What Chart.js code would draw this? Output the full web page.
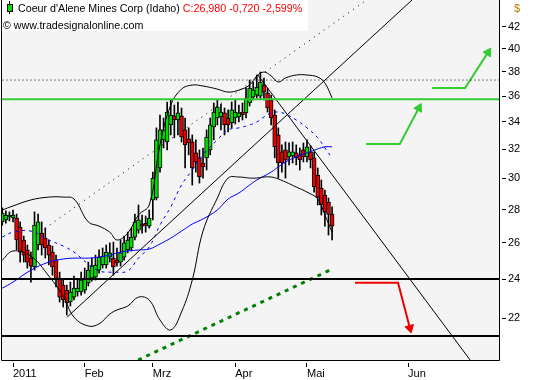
<!DOCTYPE html>
<html>
<head>
<meta charset="utf-8">
<script src="https://cdn.jsdelivr.net/npm/chart.js@4.4.1/dist/chart.umd.min.js"></script>
<style>
  body { margin: 0; background: #fff; }
  #wrap { position: relative; width: 533px; height: 380px; }
  .txt { position: absolute; font-family: 'Liberation Sans', Arial, sans-serif; font-size: 10.7px; white-space: nowrap; line-height: 15px; }
  #titlebox { position: absolute; left: 2px; top: 0; width: 306px; height: 31px; background: #fff; }
  #icon { position: absolute; left: 7px; top: 4px; width: 4px; height: 6px; background: #00dd00; border: 1px solid #000; }
  #iconwick { position: absolute; left: 9px; top: 1px; width: 1px; height: 13px; background: #000; }
</style>
</head>
<body>
<div id="wrap">
  <canvas id="chart" width="533" height="380"></canvas>
  <div id="titlebox"></div>
  <div id="iconwick"></div>
  <div id="icon"></div>
  <div class="txt" style="left:18px; top:1px;">Coeur d'Alene Mines Corp (Idaho) <span style="color:#ff0000">C:26,980 -0,720 -2,599%</span></div>
  <div class="txt" style="left:3px; top:18px;">&copy; www.tradesignalonline.com</div>
  <div class="txt" style="left:514px; top:1px; color:#b87800; font-size:11px;">$</div>
</div>
<script>
//! =============== Data =============== //
// daily candles, first one is the 3rd-last session of 2010 (index -3)
const opens  = [27.24, 27.36, 27.54, 27.48, 27.48, 26.93, 26.17, 25.60, 25.14, 24.65, 25.88, 26.57, 26.28, 25.88, 25.48, 25.03,
                24.05, 23.68, 23.42, 22.81, 23.06, 23.32, 23.32, 23.42, 23.79, 24.05, 24.10, 24.48, 24.76, 24.76, 25.20, 25.14,
                25.03, 24.92, 25.20, 25.60, 25.71, 26.34, 26.75, 27.11, 27.05, 26.99, 28.60, 28.72, 30.70, 32.67, 32.52, 33.77,
                34.45, 34.14, 34.45, 33.40, 32.74, 32.52, 31.74, 31.39, 31.04, 31.39, 31.95, 33.62, 34.29, 34.37, 34.68, 34.29,
                33.92, 34.29, 34.37, 34.75, 34.68, 35.45, 35.92, 36.08, 36.00, 36.89, 36.24, 35.69, 34.52, 33.03, 31.81, 31.95,
                31.46, 31.53, 31.74, 31.60, 31.95, 31.46, 31.81, 31.39, 30.22, 29.36, 28.91, 28.47, 27.72];
const highs  = [28.10, 27.91, 27.85, 27.97, 27.72, 27.24, 26.40, 25.88, 25.48, 27.85, 27.72, 27.24, 26.87, 26.17, 25.82, 25.31,
                24.37, 23.95, 23.68, 23.84, 24.16, 23.95, 24.37, 24.59, 24.92, 25.14, 25.31, 25.60, 25.71, 25.88, 26.00, 26.05,
                25.71, 26.17, 26.40, 26.63, 26.87, 27.72, 28.28, 27.66, 27.60, 27.97, 30.42, 33.55, 34.52, 34.29, 35.53, 35.69,
                35.29, 35.53, 35.06, 34.29, 33.55, 33.03, 32.67, 31.95, 32.09, 33.40, 34.29, 35.45, 35.69, 35.37, 35.06, 34.91,
                35.53, 35.69, 35.29, 35.45, 36.64, 37.30, 37.14, 37.72, 37.97, 37.47, 36.64, 36.08, 34.91, 33.55, 32.31, 32.52,
                32.45, 32.52, 32.31, 32.09, 32.45, 32.67, 32.24, 31.81, 30.70, 29.89, 29.23, 28.72, 28.16];
const lows   = [27.05, 27.17, 27.30, 27.24, 25.60, 24.92, 24.92, 24.59, 23.84, 24.48, 25.60, 25.31, 25.14, 24.76, 24.21, 23.58,
                22.81, 22.56, 22.16, 22.61, 22.91, 23.11, 23.16, 23.26, 23.63, 23.89, 23.95, 24.32, 24.59, 24.59, 24.92, 24.21,
                24.70, 24.70, 25.03, 25.43, 25.54, 26.17, 26.57, 26.57, 26.63, 26.87, 27.36, 28.60, 30.42, 32.09, 31.95, 33.03,
                32.82, 33.03, 32.52, 30.70, 31.60, 29.56, 30.42, 29.69, 30.02, 30.56, 31.60, 32.67, 33.77, 33.40, 33.03, 33.25,
                33.55, 33.84, 33.99, 34.14, 34.29, 35.22, 35.69, 35.85, 35.77, 35.69, 34.75, 33.77, 31.39, 30.02, 30.42, 30.02,
                30.91, 31.04, 30.91, 30.56, 31.11, 31.11, 30.70, 29.10, 28.28, 27.66, 26.99, 26.46, 26.17];
const closes = [27.78, 27.66, 27.60, 27.66, 26.17, 25.48, 25.31, 24.92, 24.70, 27.05, 27.24, 25.88, 25.71, 25.31, 24.65, 23.95,
                23.06, 22.91, 22.76, 23.32, 23.52, 23.52, 23.95, 24.05, 24.48, 24.70, 24.76, 25.20, 25.25, 25.48, 25.43, 24.65,
                24.87, 25.43, 26.00, 26.17, 26.34, 27.24, 27.36, 26.99, 27.03, 27.48, 30.02, 32.67, 33.40, 33.40, 34.75, 34.52,
                34.14, 34.68, 32.88, 32.31, 32.45, 30.70, 31.11, 30.09, 30.77, 32.88, 33.77, 34.75, 35.14, 34.75, 33.77, 33.77,
                34.91, 34.75, 34.68, 34.52, 35.85, 36.64, 36.48, 36.72, 37.14, 36.32, 35.06, 34.29, 32.17, 31.04, 31.04, 31.25,
                31.81, 31.81, 31.39, 31.25, 31.46, 32.17, 31.25, 29.43, 28.78, 28.28, 27.85, 27.70, 26.98];
const firstDay = -3;

// indicator lines, read at these sessions
const bandDays   = [-3, 0, 5, 10, 14, 17, 21, 24, 27, 29, 32, 35, 38, 41, 44, 47, 50, 53, 57, 60, 63, 66, 68, 70, 72, 74, 76, 79, 82, 85, 87, 89];
const bandUpper  = [27.97, 28.22, 28.60, 28.78, 28.78, 28.66, 27.24, 26.99, 26.63, 26.17, 26.57, 27.66, 28.28, 32.31, 35.29, 36.56,
                    36.89, 36.81, 36.56, 36.32, 36.48, 36.89, 37.64, 37.97, 37.64, 37.14, 37.47, 37.72, 37.72, 37.55, 37.05, 35.85];
const bandMiddle = [26.34, 26.63, 26.69, 26.17, 25.82, 25.48, 24.81, 24.43, 24.37, 24.37, 24.43, 25.14, 25.77, 27.05, 28.16, 29.56,
                    30.56, 31.60, 32.67, 33.40, 33.55, 33.77, 33.99, 34.37, 34.68, 34.75, 34.60, 34.14, 33.55, 32.82, 32.09, 31.39];
const bandLower  = [25.03, 25.54, 25.25, 24.16, 23.11, 22.06, 21.63, 21.73, 22.21, 22.41, 22.61, 23.06, 22.91, 21.92, 21.44, 22.31,
                    23.95, 26.69, 28.72, 30.02, 30.09, 30.02, 30.02, 30.09, 30.09, 29.96, 29.76, 29.43, 29.10, 28.66, 27.66, 26.63];
const slowAverage = [23.52, 23.84, 24.48, 24.92, 25.09, 25.14, 25.14, 25.20, 25.31, 25.43, 25.54, 25.60, 25.65, 25.94, 26.28, 26.69,
                     27.11, 27.42, 27.97, 28.66, 29.04, 29.56, 29.89, 30.15, 30.42, 30.77, 31.11, 31.46, 31.74, 32.02, 32.17, 32.17];

// drawn lines (session, price)
const riseLineDays = [15.1, 111.3],  riseLinePrices = [22.06, 44.54];
const fallLineDays = [68.3, 127.5],  fallLinePrices = [37.72, 20.06];
const dotRiseDays  = [8.9, 98.6],    dotRisePrices  = [26.85, 44.54];
const greenDotDays = [34.9, 88.4],   greenDotPrices = [20.06, 24.48];
const resistance = 35.75, peakLevel = 37.30, support = 24.0, lowSupport = 21.15;
const arrowUp1Days = [98.5, 107.9, 113.2],  arrowUp1Prices = [32.38, 32.38, 35.06];
const arrowUp2Days = [116.9, 126.1, 132.5], arrowUp2Prices = [36.64, 36.64, 39.66];
const arrowDnDays  = [95.4, 107.4, 110.7],  arrowDnPrices  = [23.8, 23.8, 21.53];

// axes
const dayMin = -3.07, dayMax = 135.56;
const priceMin = 20.06, priceMax = 44.54;
const priceTicks = [22, 24, 26, 28, 30, 32, 34, 36, 38, 40, 42];
const monthDays = [0, 20, 39, 62, 82, 110.2];
const monthLabels = ['2011', 'Feb', 'Mrz', 'Apr', 'Mai', 'Jun'];


//! =============== Chart =============== //
const days = opens.map((_, i) => firstDay + i);
const tickFont = { family: "'Liberation Sans', Arial, sans-serif", size: 11 };

function pts(xs, ys) { return xs.map((x, i) => ({ x: x, y: ys[i] })); }
function flat(v) { return [{ x: dayMin - 1, y: v }, { x: dayMax + 1, y: v }]; }
function line(data, color, width, extra) {
  return Object.assign({ type: 'line', data: data, borderColor: color, borderWidth: width,
    pointRadius: 0, tension: 0, order: 0 }, extra || {});
}
function arrow(xs, ys, color, rot) {
  return line(pts(xs, ys), color, 2, {
    pointRadius: [0, 0, 5], pointStyle: 'triangle', pointRotation: [0, 0, rot],
    pointBackgroundColor: color, pointBorderColor: color, pointBorderWidth: 1
  });
}
// no extra room for edge labels, the plot box fills the canvas
function noPad(s) { s.paddingTop = 0; s.paddingBottom = 0; s.paddingLeft = 0; s.paddingRight = 0; }

const plotFrame = {
  id: 'plotFrame',
  beforeDraw(chart) {
    const a = chart.chartArea, c = chart.ctx;
    c.save();
    c.fillStyle = '#f4f4f4';
    c.fillRect(a.left, a.top, a.right - a.left, a.bottom - a.top);
    c.restore();
  },
  afterDraw(chart) {
    const a = chart.chartArea, c = chart.ctx;
    c.save();
    c.strokeStyle = '#000';
    c.lineWidth = 1;
    c.beginPath();
    c.moveTo(a.left - 0.5, a.top);
    c.lineTo(a.left - 0.5, a.bottom + 0.5);
    c.lineTo(a.right + 0.5, a.bottom + 0.5);
    c.lineTo(a.right + 0.5, a.top);
    c.stroke();
    c.restore();
  }
};

new Chart(document.getElementById('chart'), {
  type: 'bar',
  data: {
    datasets: [
      line(flat(support), '#000', 2),
      line(flat(lowSupport), '#000', 2),
      line(flat(resistance), '#33cc33', 2),
      line(flat(peakLevel), '#000', 1, { borderDash: [1, 3] }),
      line(pts(dotRiseDays, dotRisePrices), '#000', 1, { borderDash: [1, 5] }),
      line(pts(riseLineDays, riseLinePrices), '#000', 1),
      line(pts(fallLineDays, fallLinePrices), '#000', 1),
      line(pts(greenDotDays, greenDotPrices), '#008000', 3, { borderDash: [4, 5] }),
      line(pts(bandDays, bandUpper), '#000', 1, { tension: 0.4 }),
      line(pts(bandDays, bandLower), '#000', 1, { tension: 0.4 }),
      line(pts(bandDays, bandMiddle), '#0000ff', 1, { tension: 0.4, borderDash: [3, 4] }),
      line(pts(bandDays, slowAverage), '#0000ff', 1, { tension: 0.4 }),
      arrow(arrowUp1Days, arrowUp1Prices, '#33cc33', 27),
      arrow(arrowUp2Days, arrowUp2Prices, '#33cc33', 33),
      arrow(arrowDnDays, arrowDnPrices, '#ee0000', 165),
      {
        // bodies
        data: days.map((d, i) => ({ x: d, y: [opens[i], closes[i]] })),
        backgroundColor: closes.map((c, i) => c >= opens[i] ? '#00dd00' : '#e60000'),
        borderColor: '#000', borderWidth: 1, borderSkipped: false,
        barThickness: 4, grouped: false, minBarLength: 2, order: 1
      },
      {
        // wicks
        data: days.map((d, i) => ({ x: d, y: [lows[i], highs[i]] })),
        backgroundColor: '#000', borderWidth: 0,
        barThickness: 1, grouped: false, order: 2
      }
    ]
  },
  options: {
    responsive: false,
    animation: false,
    layout: { autoPadding: false, padding: { left: 2, top: 0, right: 0, bottom: 0 } },
    plugins: { legend: { display: false }, tooltip: { enabled: false } },
    scales: {
      x: {
        type: 'linear', min: dayMin, max: dayMax, bounds: 'data', offset: false,
        afterBuildTicks: s => { s.ticks = monthDays.map(v => ({ value: v })); },
        afterFit: s => { s.height = 20; noPad(s); },
        ticks: {
          autoSkip: false, maxRotation: 0, align: 'start', padding: 0, color: '#000', font: tickFont,
          callback: v => monthLabels[monthDays.indexOf(v)]
        },
        grid: { drawOnChartArea: false, offset: false, tickLength: 7, tickColor: '#000', tickBorderDash: [0, 3, 4, 20] },
        border: { display: false }
      },
      y: {
        type: 'logarithmic', position: 'right', min: priceMin, max: priceMax, bounds: 'data',
        afterBuildTicks: s => { s.ticks = priceTicks.map(v => ({ value: v })); },
        afterFit: s => { s.width = 34; noPad(s); },
        ticks: { autoSkip: false, padding: 2, color: '#000', font: tickFont, callback: v => String(v) },
        grid: { drawOnChartArea: false, tickLength: 7, tickColor: '#000', tickBorderDash: [0, 3, 4, 20] },
        border: { display: false }
      }
    }
  },
  plugins: [plotFrame]
});
</script>
</body>
</html>
